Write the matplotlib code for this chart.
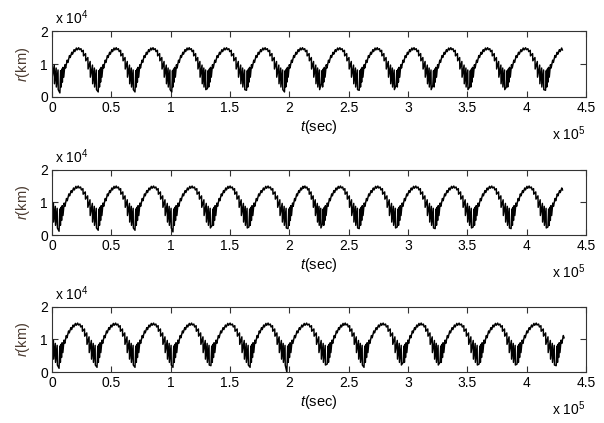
import numpy as np
import matplotlib
matplotlib.use('Agg')
import matplotlib.pyplot as plt

plt.rcParams['font.family'] = ['Liberation Sans', 'DejaVu Sans']
plt.rcParams['mathtext.fontset'] = 'custom'
plt.rcParams['mathtext.rm'] = 'Liberation Sans'
plt.rcParams['mathtext.it'] = 'Liberation Sans:italic'

# times of the deep minima of each panel (sec)
min_t = [
    [0.067, 0.39, 0.70, 1.01, 1.31, 1.64, 1.96, 2.27, 2.59, 2.90, 3.21, 3.52, 3.83, 4.16],
    [0.060, 0.39, 0.70, 1.02, 1.35, 1.66, 1.99, 2.28, 2.59, 2.91, 3.23, 3.55, 3.87, 4.18],
    [0.060, 0.38, 0.70, 1.02, 1.34, 1.67, 1.98, 2.32, 2.63, 2.96, 3.27, 3.60, 3.92, 4.25],
]
# depth of the lowest spike at each minimum (x 1e4 km)
min_r = [
    [0.12, 0.15, 0.15, 0.15, 0.25, 0.20, 0.15, 0.40, 0.20, 0.35, 0.35, 0.30, 0.30, 0.20],
    [0.12, 0.15, 0.15, 0.10, 0.30, 0.25, 0.20, 0.35, 0.20, 0.25, 0.20, 0.25, 0.20, 0.25],
    [0.12, 0.15, 0.15, 0.15, 0.20, 0.15, 0.00, 0.25, 0.15, 0.30, 0.30, 0.25, 0.25, 0.20],
]
end_t = [4.31, 4.31, 4.32]

# shape of one arch between two minima: fraction of the arch, r (x 1e4 km)
arch_phase = [0.02, 0.035, 0.05, 0.065, 0.08, 0.10, 0.13, 0.15, 0.19, 0.21, 0.25, 0.27,
              0.31, 0.33, 0.37, 0.39, 0.43, 0.45, 0.49, 0.51, 0.55, 0.57, 0.61, 0.615,
              0.67, 0.675, 0.73, 0.735, 0.79, 0.795, 0.85, 0.855, 0.90, 0.905, 0.95, 0.955]
arch_r = [0.80, 0.30, 0.85, 0.45, 0.90, 0.60, 0.98, 0.88, 1.12, 1.05, 1.26, 1.20,
          1.36, 1.30, 1.44, 1.38, 1.49, 1.43, 1.50, 1.44, 1.47, 1.38, 1.42, 1.25,
          1.32, 1.10, 1.20, 0.85, 1.08, 0.60, 0.97, 0.40, 0.88, 0.30, 0.82, 0.22]

period = 0.3155

fig = plt.figure(figsize=(6.04, 4.23), dpi=100)
bottoms = [0.771, 0.444, 0.120]
for i in range(3):
    ax = fig.add_axes([0.086, bottoms[i], 0.884, 0.155])
    starts = [min_t[i][0] - period] + min_t[i]
    depths = [min_r[i][0]] + min_r[i]
    tt, rr = [], []
    for k in range(len(starts)):
        a = starts[k]
        b = starts[k + 1] if k + 1 < len(starts) else a + period
        tt.append(a)
        rr.append(depths[k])
        for p, v in zip(arch_phase, arch_r):
            tt.append(a + p * (b - a))
            rr.append(v)
    tt = np.array(tt)
    rr = np.array(rr)
    keep = (tt >= 0) & (tt <= end_t[i])
    t0 = np.concatenate([[0.0], tt[keep]])
    r0 = np.concatenate([[1.0], rr[keep]])
    ax.plot(t0 * 1e5, r0 * 1e4, color='black', lw=1.05)

    ax.set_xlim(0, 4.5e5)
    ax.set_ylim(0, 2e4)
    ax.set_xticks(np.arange(0, 4.51e5, 0.5e5))
    ax.set_xticklabels(['0', '0.5', '1', '1.5', '2', '2.5', '3', '3.5', '4', '4.5'])
    ax.set_yticks([0, 1e4, 2e4])
    ax.set_yticklabels(['0', '1', '2'])
    ax.tick_params(direction='in', top=True, right=True, length=4, labelsize=10,
                   color='#333333', pad=3)
    for s in ax.spines.values():
        s.set_color('#333333')
        s.set_linewidth(0.8)
    ax.set_xlabel(r'$t$(sec)', fontsize=10.5, labelpad=2)
    ax.set_ylabel(r'$r$(km)', fontsize=10.5, color='#4a3a30', labelpad=6)
    ax.text(0.005, 1.06, r'x 10$^{4}$', transform=ax.transAxes, fontsize=10,
            ha='left', va='bottom')
    ax.text(1.0, -0.56, r'x 10$^{5}$', transform=ax.transAxes, fontsize=10,
            ha='right', va='center')

fig.savefig('out.png', dpi=100)
